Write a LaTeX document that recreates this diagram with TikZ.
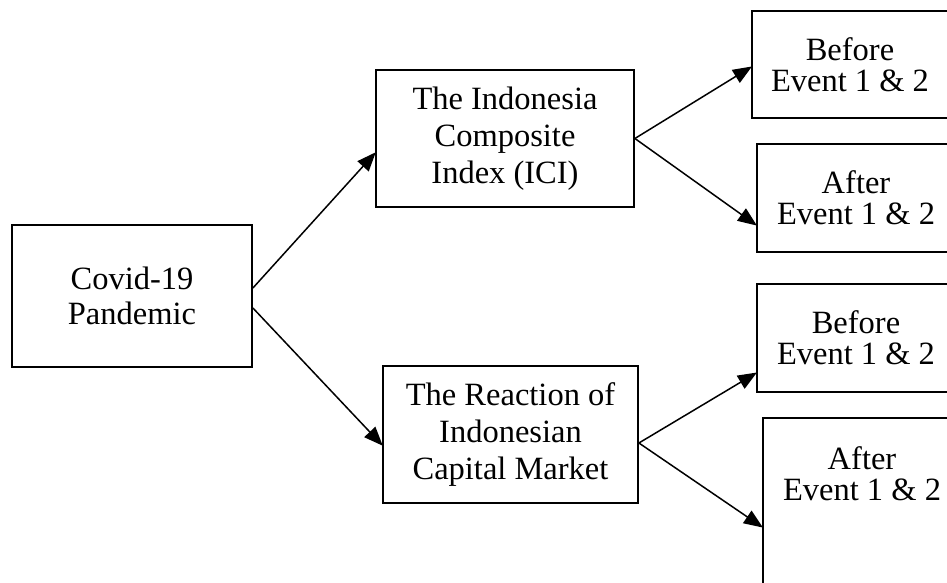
\documentclass[tikz,border=0pt]{standalone}
\usepackage{fontspec}
\setmainfont{Liberation Serif}
\usetikzlibrary{arrows.meta}
\begin{document}
\begin{tikzpicture}[x=1pt,y=-1pt,
  box/.style={draw,line width=1.8pt,rectangle,inner sep=0pt,align=center,
    font=\fontsize{32.5}{36.7}\selectfont},
  sbox/.style={box,font=\fontsize{32.5}{31}\selectfont},
  arr/.style={-{Triangle[length=19pt,width=15pt]},line width=1.5pt,shorten >=-1pt}]
\useasboundingbox (0,0) rectangle (947,583);
\clip (0,0) rectangle (947,583);
\node[box,minimum width=240pt,minimum height=142pt,font=\fontsize{32.5}{35}\selectfont] (cov) at (132,296) {Covid-19\\Pandemic};
\node[box,minimum width=258pt,minimum height=137pt] (ici) at (505,138.5) {The Indonesia\\Composite\\Index (ICI)};
\node[box,minimum width=255pt,minimum height=137pt] (rea) at (510.5,434.5) {The Reaction of\\Indonesian\\Capital Market};
\node[sbox,minimum width=196pt,minimum height=107pt] (bef1) at (850,64.5) {Before\\Event 1 \& 2};
\node[sbox,minimum width=198pt,minimum height=108pt] (af1) at (856,198) {After\\Event 1 \& 2};
\node[sbox,minimum width=198pt,minimum height=108pt] (bef2) at (856,338) {Before\\Event 1 \& 2};
\node[draw,line width=1.8pt,inner sep=0pt,minimum width=198pt,minimum height=222pt] (af2) at (862,529) {};
\node[align=center,inner sep=0pt,font=\fontsize{32.5}{31}\selectfont] (af2t) at (862,474) {After\\Event 1 \& 2};
\draw[arr] ([yshift=8pt]cov.east) -- ([yshift=-14.5pt]ici.west);
\draw[arr] ([yshift=-12pt]cov.east) -- ([yshift=-10.5pt]rea.west);
\draw[arr] (ici.east) -- ([yshift=-2.5pt]bef1.west);
\draw[arr] (ici.east) -- ([yshift=-27pt]af1.west);
\draw[arr] ([yshift=-8.5pt]rea.east) -- ([yshift=-35pt]bef2.west);
\draw[arr] ([yshift=-8.5pt]rea.east) -- (af2.west |- 0,527);
\end{tikzpicture}
\end{document}
